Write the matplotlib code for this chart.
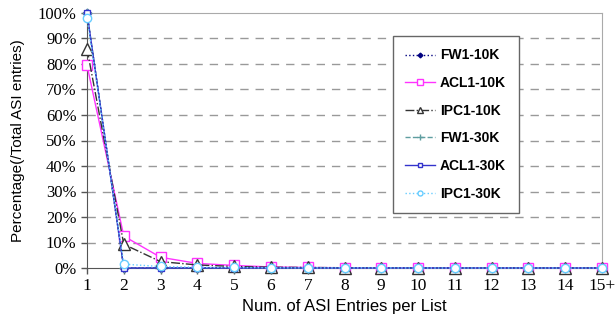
import numpy as np
import matplotlib.pyplot as plt

categories = ["1", "2", "3", "4", "5", "6", "7", "8", "9", "10", "11", "12", "13", "14", "15+"]

fw1_10k = [100, 0, 0, 0, 0, 0, 0, 0, 0, 0, 0, 0, 0, 0, 0]
acl1_10k = [79.5, 12.5, 4.2, 1.8, 1.0, 0.4, 0.2, 0.1, 0.1, 0.1, 0.05, 0.05, 0.05, 0.05, 0.1]
ipc1_10k = [86, 9.3, 2.5, 1.2, 0.6, 0.3, 0.2, 0.1, 0.1, 0.05, 0.05, 0.05, 0.05, 0.05, 0.1]
fw1_30k = [100, 0, 0, 0, 0, 0, 0, 0, 0, 0, 0, 0, 0, 0, 0]
acl1_30k = [100, 0, 0, 0, 0, 0, 0, 0, 0, 0, 0, 0, 0, 0, 0]
ipc1_30k = [98, 1.5, 0.6, 0.3, 0.2, 0.1, 0.05, 0.05, 0.05, 0, 0, 0, 0, 0, 0]

x = np.arange(1, len(categories) + 1)

fig = plt.figure(figsize=(6.15, 3.21), dpi=100)
ax = fig.add_axes([87 / 615, 1 - 268 / 321, 515 / 615, 255 / 321])

series = [
    ("FW1-10K", fw1_10k, dict(color="#000080", ls=":", marker="D", ms=4, mfc="#000080")),
    ("ACL1-10K", acl1_10k, dict(color="#ff33ff", ls="-", marker="s", ms=7, mfc="white")),
    ("IPC1-10K", ipc1_10k, dict(color="#333333", ls="-.", marker="^", ms=8, mfc="white")),
    ("FW1-30K", fw1_30k, dict(color="#5f9ea0", ls="--", marker="+", ms=7)),
    ("ACL1-30K", acl1_30k, dict(color="#3333cc", ls="-", marker="s", ms=5, mfc="white")),
    ("IPC1-30K", ipc1_30k, dict(color="#66ccff", ls=":", marker="o", ms=6, mfc="white")),
]

for name, vals, style in series:
    ax.plot(x, vals, label=name, lw=1, clip_on=False, zorder=3, **style)

ax.set_xlim(1, 15)
ax.set_ylim(0, 100)
ax.set_yticks(np.arange(0, 101, 10))
ax.set_yticklabels([f"{v}%" for v in range(0, 101, 10)], family="Liberation Serif", fontsize=12)
ax.set_xticks(x)
ax.set_xticklabels(categories, family="Liberation Serif", fontsize=12.5)

for y in range(10, 100, 10):
    ax.axhline(y, color="#999999", lw=1, ls=(0, (6, 5)), zorder=1)

for side in ["top", "right"]:
    ax.spines[side].set_color("#aaaaaa")
for side in ["left", "bottom"]:
    ax.spines[side].set_color("#555555")
ax.tick_params(axis="both", color="#555555", length=4, width=1)

ax.set_xlabel("Num. of ASI Entries per List", family="Liberation Sans", fontsize=12, labelpad=3)
ax.set_ylabel("Percentage(/Total ASI entries)", family="Liberation Sans", fontsize=11, labelpad=9)

leg = ax.legend(loc="upper left", bbox_to_anchor=(0.594, 0.91), borderaxespad=0,
                prop=dict(family="Liberation Sans", weight="bold", size=10),
                labelspacing=0.98, handlelength=2.1, handletextpad=0.4, borderpad=0.9, markerscale=0.6,
                fancybox=False, framealpha=1, edgecolor="#666666")
leg.get_frame().set_linewidth(1)

fig.savefig("out.png", dpi=100)
